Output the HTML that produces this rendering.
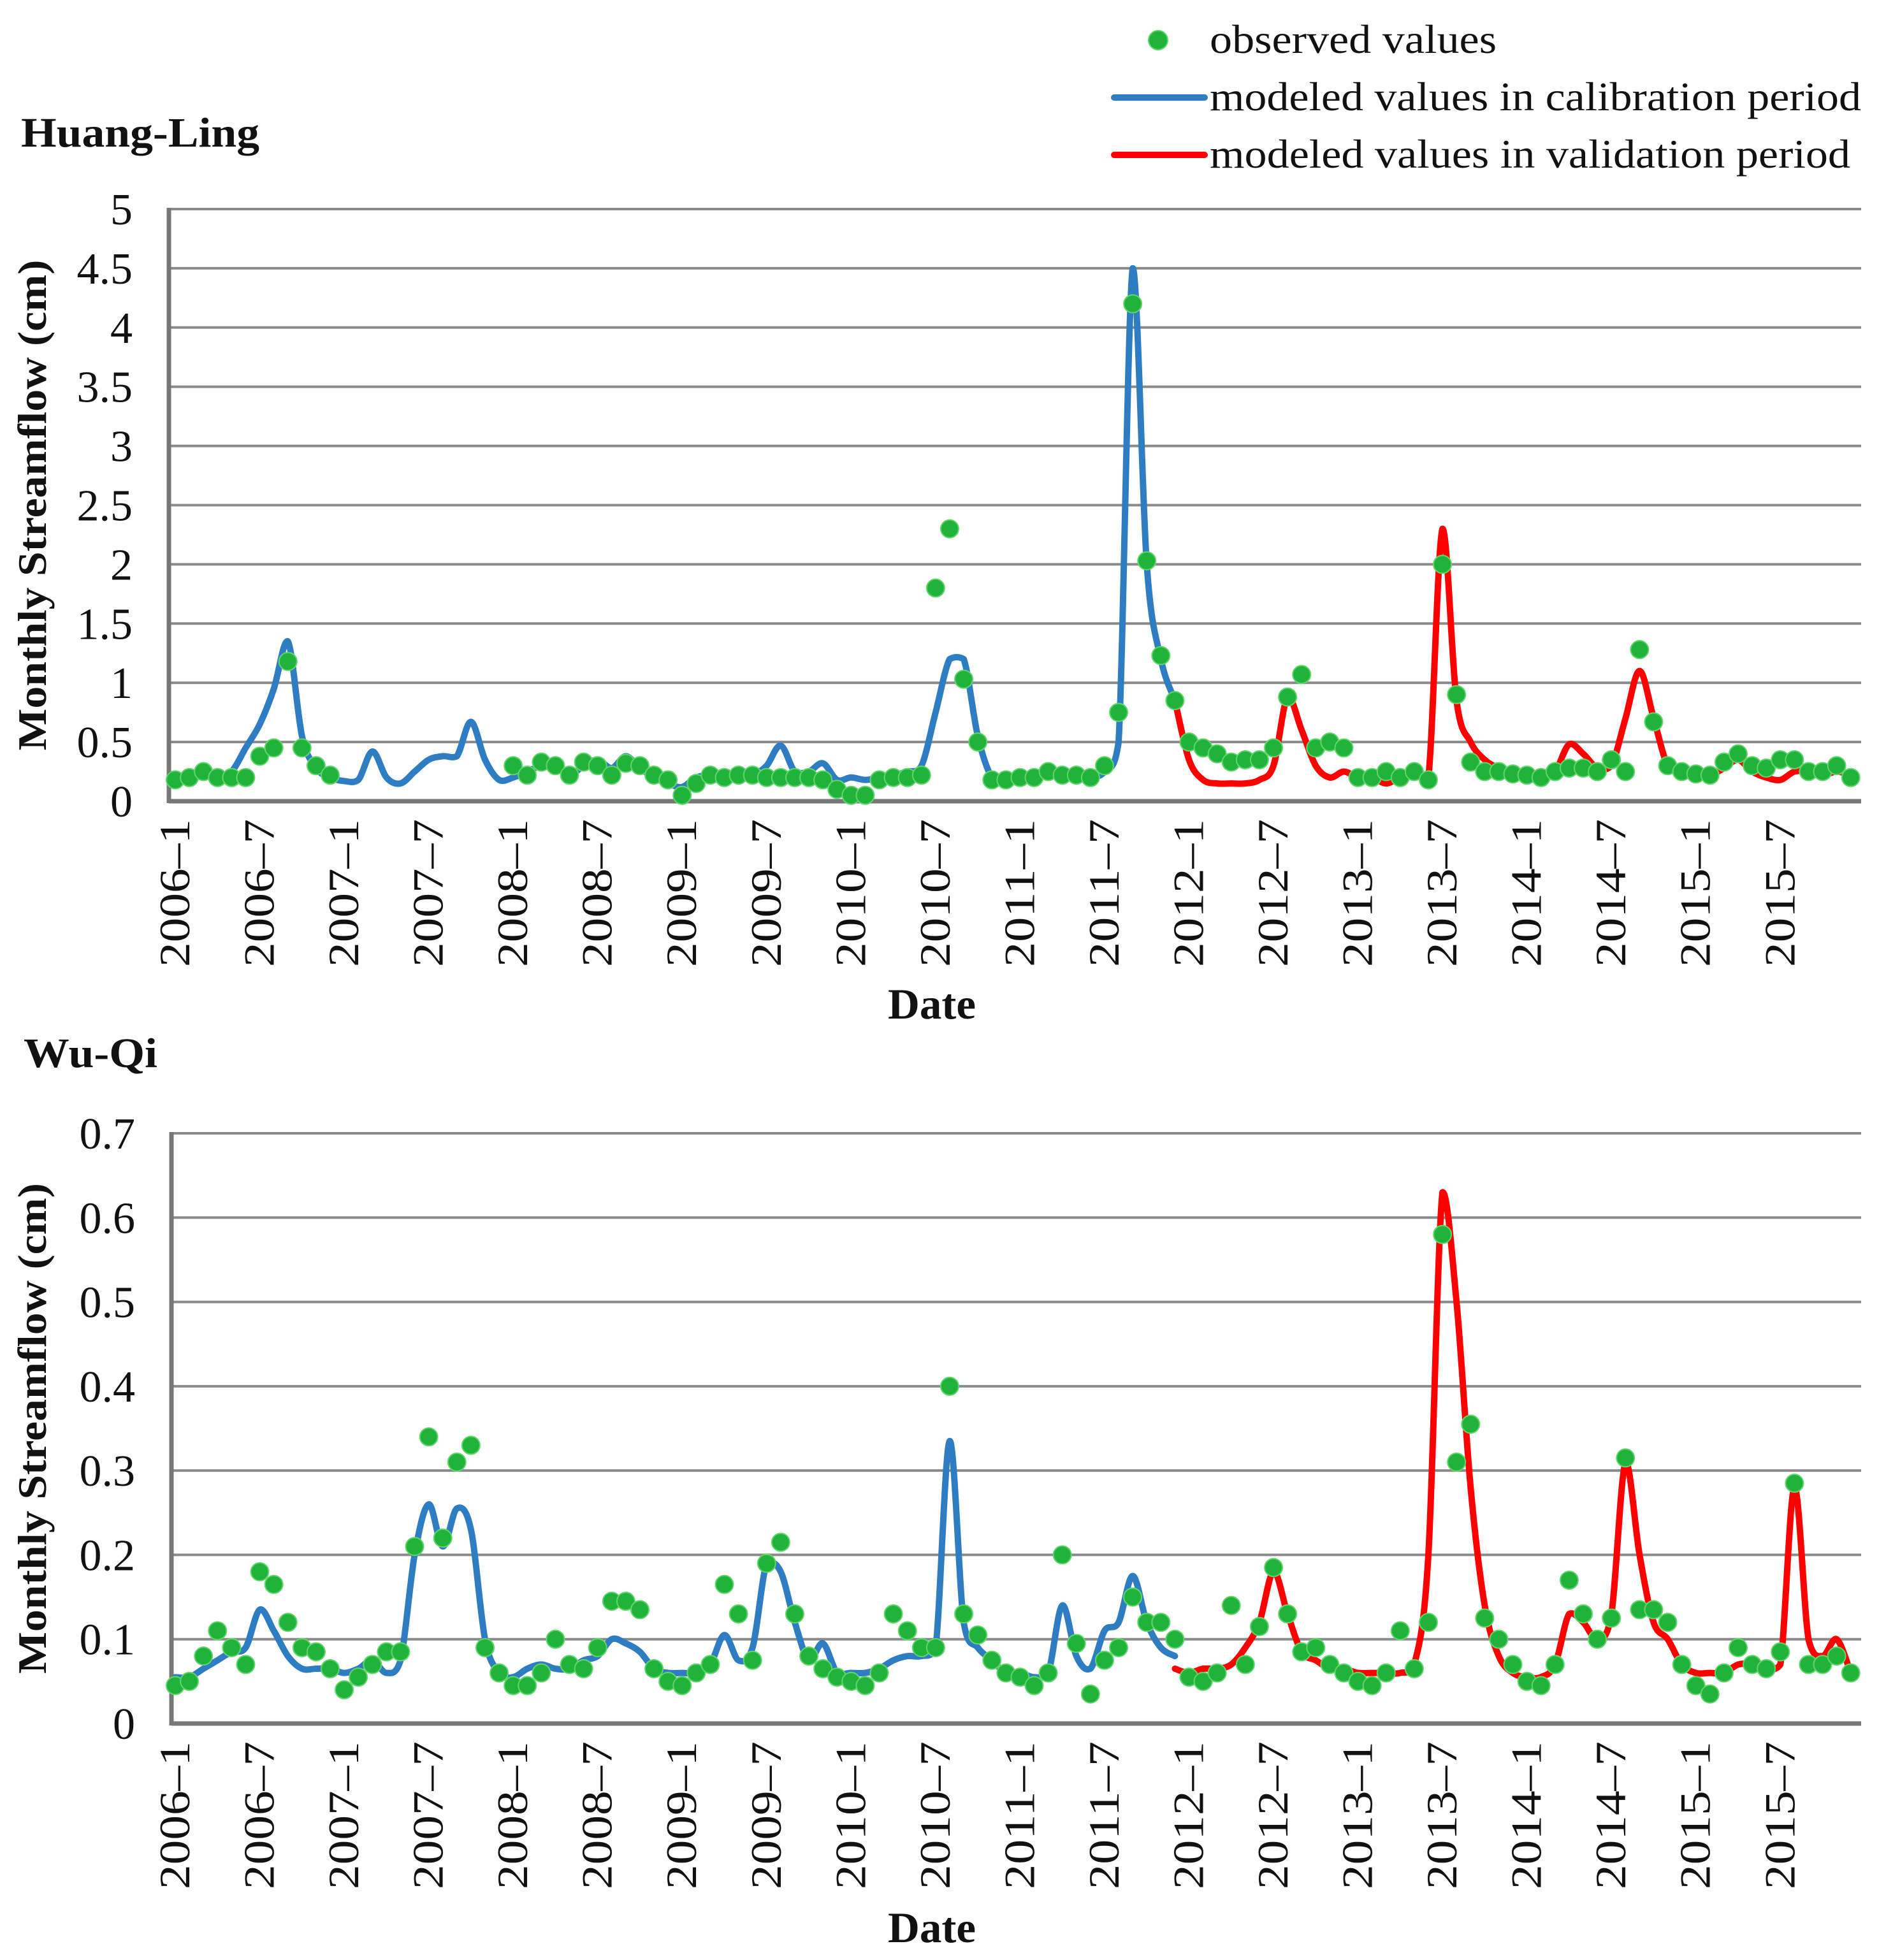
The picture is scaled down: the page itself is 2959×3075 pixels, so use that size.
<!DOCTYPE html>
<html><head><meta charset="utf-8">
<style>
html,body{margin:0;padding:0;background:#fff;}
svg{display:block;font-family:"Liberation Serif",serif;}
</style></head>
<body>
<svg id="chart" width="2959" height="3075" viewBox="0 0 2959 3075" xmlns="http://www.w3.org/2000/svg">
<g id="legend">
  <circle cx="1817" cy="63" r="15" fill="#20b23a" stroke="#5fd86a" stroke-width="2"/>
  <text x="1898" y="83" font-size="64" fill="#111" textLength="450" lengthAdjust="spacingAndGlyphs">observed values</text>
  <line x1="1748" y1="153" x2="1890" y2="153" stroke="#2e7dc2" stroke-width="10" stroke-linecap="round"/>
  <text x="1898" y="173" font-size="64" fill="#111" textLength="1022" lengthAdjust="spacingAndGlyphs">modeled values in calibration period</text>
  <line x1="1748" y1="243" x2="1890" y2="243" stroke="#ff0000" stroke-width="10" stroke-linecap="round"/>
  <text x="1898" y="263" font-size="64" fill="#111" textLength="1005" lengthAdjust="spacingAndGlyphs">modeled values in validation period</text>
</g>
<text x="33" y="230" font-size="66" font-weight="bold" fill="#111" textLength="374" lengthAdjust="spacingAndGlyphs">Huang-Ling</text>
<text x="37" y="1674" font-size="66" font-weight="bold" fill="#111" textLength="210" lengthAdjust="spacingAndGlyphs">Wu-Qi</text>
<g id="top"></g>
<g id="bot"></g>
</svg>
<script>
// Huang-Ling data (months 0..119 from 2006-1)
const hlObserved = [0.18,0.2,0.25,0.2,0.2,0.2,0.38,0.45,1.18,0.45,0.3,0.22,
null,null,null,null,null,null,null,null,null,null,null,null,
0.3,0.22,0.33,0.3,0.22,0.33,0.3,0.22,0.32,0.3,0.22,0.18,
0.05,0.15,0.22,0.2,0.22,0.22,0.2,0.2,0.2,0.2,0.18,0.1,
0.05,0.05,0.18,0.2,0.2,0.22,1.8,2.3,1.03,0.5,0.18,0.18,
0.2,0.2,0.25,0.22,0.22,0.2,0.3,0.75,4.2,2.03,1.23,0.85,
0.5,0.45,0.4,0.33,0.35,0.35,0.45,0.88,1.07,0.45,0.5,0.45,
0.2,0.2,0.25,0.2,0.25,0.18,2.0,0.9,0.33,0.25,0.25,0.23,
0.22,0.2,0.25,0.28,0.28,0.25,0.35,0.25,1.28,0.67,0.3,0.25,
0.23,0.22,0.33,0.4,0.3,0.28,0.35,0.35,0.25,0.25,0.3,0.2];
const hlCalibration = [0.18,0.2,0.22,0.2,0.25,0.45,0.65,0.95,1.35,0.55,0.28,0.2,
0.17,0.18,0.42,0.2,0.15,0.25,0.35,0.38,0.38,0.67,0.35,0.18,
0.2,0.25,0.3,0.3,0.22,0.3,0.35,0.28,0.38,0.28,0.2,0.15,
0.12,0.2,0.22,0.2,0.22,0.22,0.3,0.47,0.25,0.25,0.32,0.18,
0.2,0.18,0.2,0.22,0.25,0.3,0.75,1.2,1.2,0.55,0.2,0.17,
0.2,0.22,0.22,0.2,0.2,0.2,0.25,0.5,4.5,2.0,1.2,0.85];
const hlValidation = [0.85,0.35,0.18,0.15,0.15,0.15,0.18,0.3,0.88,0.6,0.3,0.2,0.25,
0.2,0.2,0.15,0.2,0.22,0.2,2.3,0.85,0.5,0.35,0.28,0.25,
0.22,0.2,0.25,0.48,0.4,0.28,0.3,0.7,1.1,0.7,0.3,0.25,
0.22,0.22,0.28,0.35,0.25,0.2,0.18,0.25,0.25,0.22,0.25,0.22];
const hlTicks = [0,0.5,1,1.5,2,2.5,3,3.5,4,4.5,5];

// Wu-Qi data
const wqObserved = [0.045,0.05,0.08,0.11,0.09,0.07,0.18,0.165,0.12,0.09,0.085,0.065,
0.04,0.055,0.07,0.085,0.085,0.21,0.34,0.22,0.31,0.33,0.09,0.06,
0.045,0.045,0.06,0.1,0.07,0.065,0.09,0.145,0.145,0.135,0.065,0.05,
0.045,0.06,0.07,0.165,0.13,0.075,0.19,0.215,0.13,0.08,0.065,0.055,
0.05,0.045,0.06,0.13,0.11,0.09,0.09,0.4,0.13,0.105,0.075,0.06,
0.055,0.045,0.06,0.2,0.095,0.035,0.075,0.09,0.15,0.12,0.12,0.1,
0.055,0.05,0.06,0.14,0.07,0.115,0.185,0.13,0.085,0.09,0.07,0.06,
0.05,0.045,0.06,0.11,0.065,0.12,0.58,0.31,0.355,0.125,0.1,0.07,
0.05,0.045,0.07,0.17,0.13,0.1,0.125,0.315,0.135,0.135,0.12,0.07,
0.045,0.035,0.06,0.09,0.07,0.065,0.085,0.285,0.07,0.07,0.08,0.06];
const wqCalibration = [0.055,0.055,0.065,0.075,0.085,0.09,0.135,0.11,0.08,0.065,0.065,0.065,
0.06,0.065,0.075,0.06,0.075,0.2,0.26,0.21,0.255,0.23,0.1,0.06,
0.055,0.065,0.07,0.065,0.065,0.075,0.08,0.1,0.095,0.085,0.065,0.06,
0.06,0.06,0.07,0.105,0.075,0.09,0.19,0.18,0.12,0.075,0.095,0.06,
0.06,0.06,0.065,0.075,0.08,0.08,0.09,0.335,0.12,0.09,0.075,0.06,
0.06,0.055,0.06,0.14,0.08,0.065,0.11,0.12,0.175,0.12,0.09,0.08];
const wqValidation = [0.065,0.06,0.065,0.065,0.07,0.09,0.12,0.18,0.13,0.085,0.075,0.065,0.065,
0.06,0.06,0.06,0.06,0.07,0.2,0.63,0.5,0.28,0.14,0.08,0.06,
0.055,0.055,0.07,0.13,0.12,0.1,0.13,0.31,0.2,0.12,0.1,0.07,
0.06,0.06,0.06,0.07,0.07,0.065,0.07,0.28,0.1,0.08,0.1,0.06];
const wqTicks = [0,0.1,0.2,0.3,0.4,0.5,0.6,0.7];
const validationStart = 71;
const xLabelMonths = [0,6,12,18,24,30,36,42,48,54,60,66,72,78,84,90,96,102,108,114];

const NS = "http://www.w3.org/2000/svg";
function mk(tag, attrs, parent){
  const e = document.createElementNS(NS, tag);
  for (const k in attrs) e.setAttribute(k, attrs[k]);
  parent.appendChild(e);
  return e;
}
function xScale(m){ return 275 + 22.09*m; }
function clampY(c, a, b){
  const lo = Math.min(a,b)-4, hi = Math.max(a,b)+4;
  return Math.max(lo, Math.min(hi, c));
}
function smoothPath(pts){
  let d = "M"+pts[0][0].toFixed(1)+","+pts[0][1].toFixed(1);
  for (let i=0;i<pts.length-1;i++){
    const p0=pts[Math.max(0,i-1)], p1=pts[i], p2=pts[i+1], p3=pts[Math.min(pts.length-1,i+2)];
    const c1x=p1[0]+(p2[0]-p0[0])/6, c1y=clampY(p1[1]+(p2[1]-p0[1])/6, p1[1], p2[1]);
    const c2x=p2[0]-(p3[0]-p1[0])/6, c2y=clampY(p2[1]-(p3[1]-p1[1])/6, p1[1], p2[1]);
    d += " C"+c1x.toFixed(1)+","+c1y.toFixed(1)+" "+c2x.toFixed(1)+","+c2y.toFixed(1)+" "+p2[0].toFixed(1)+","+p2[1].toFixed(1);
  }
  return d;
}
function drawChart(g, cfg){
  const yScale = v => cfg.bottom - (v/cfg.max)*(cfg.bottom-cfg.top);
  cfg.ticks.forEach(t=>{
    const y = yScale(t);
    if (t>0){
      const gl = mk("line",{x1:cfg.left,x2:2920,y1:y,y2:y,stroke:"#8a8a8a","stroke-width":4},g);
      
      
    }
    const tl = mk("text",{x:cfg.left-57,y:y+24,"font-size":70,"text-anchor":"end",fill:"#111"},g);
    tl.textContent = String(t);
    
    
  });
  const xa = mk("line",{x1:cfg.left,x2:2920,y1:cfg.bottom,y2:cfg.bottom,stroke:"#777","stroke-width":7},g);
  
  
  const ya = mk("line",{x1:cfg.left,x2:cfg.left,y1:cfg.top-2,y2:cfg.bottom+3,stroke:"#777","stroke-width":7},g);
  
  
  xLabelMonths.forEach(m=>{
    const yr = 2006+Math.floor(m/12), mo = m%12+1;
    const x = xScale(m)+22, y = cfg.bottom+28;
    const t = mk("text",{x:x,y:y,"font-size":68,"text-anchor":"end",fill:"#111",transform:"rotate(-90 "+x+" "+y+")",textLength:"232",lengthAdjust:"spacingAndGlyphs"},g);
    t.textContent = yr+"\u2013"+mo;
    
    
  });
  const cy = (cfg.top+cfg.bottom)/2;
  const yt = mk("text",{x:72,y:cy,"font-size":64,"font-weight":"bold","text-anchor":"middle",fill:"#111",transform:"rotate(-90 72 "+cy+")",textLength:"770",lengthAdjust:"spacingAndGlyphs"},g);
  yt.textContent = "Monthly Streamflow (cm)";
  
  
  const xt = mk("text",{x:1462,y:cfg.dateY,"font-size":68,"font-weight":"bold","text-anchor":"middle",fill:"#111",textLength:"138",lengthAdjust:"spacingAndGlyphs"},g);
  xt.textContent = "Date";
  
  
  const calPts = cfg.cal.map((v,i)=>[xScale(i), yScale(v)]);
  const cal = mk("path",{d:smoothPath(calPts),fill:"none",stroke:"#2e7dc2","stroke-width":10,"stroke-linejoin":"round","stroke-linecap":"round"},g);
  
  
  const valPts = cfg.val.map((v,i)=>[xScale(i+validationStart), yScale(v)]);
  const val = mk("path",{d:smoothPath(valPts),fill:"none",stroke:"#ff0000","stroke-width":10,"stroke-linejoin":"round","stroke-linecap":"round"},g);
  
  
  cfg.obs.forEach((v,i)=>{
    if (v===null) return;
    const c = mk("circle",{cx:xScale(i),cy:yScale(v),r:14,fill:"#20b23a",stroke:"#62d66c","stroke-width":2},g);
    
    
  });
}
drawChart(document.getElementById("top"),{left:265,top:328,bottom:1257,max:5,ticks:hlTicks,obs:hlObserved,cal:hlCalibration,val:hlValidation,dateY:1598});
drawChart(document.getElementById("bot"),{left:269,top:1778,bottom:2704,max:0.7,ticks:wqTicks,obs:wqObserved,cal:wqCalibration,val:wqValidation,dateY:3047});
</script>
</body></html>
